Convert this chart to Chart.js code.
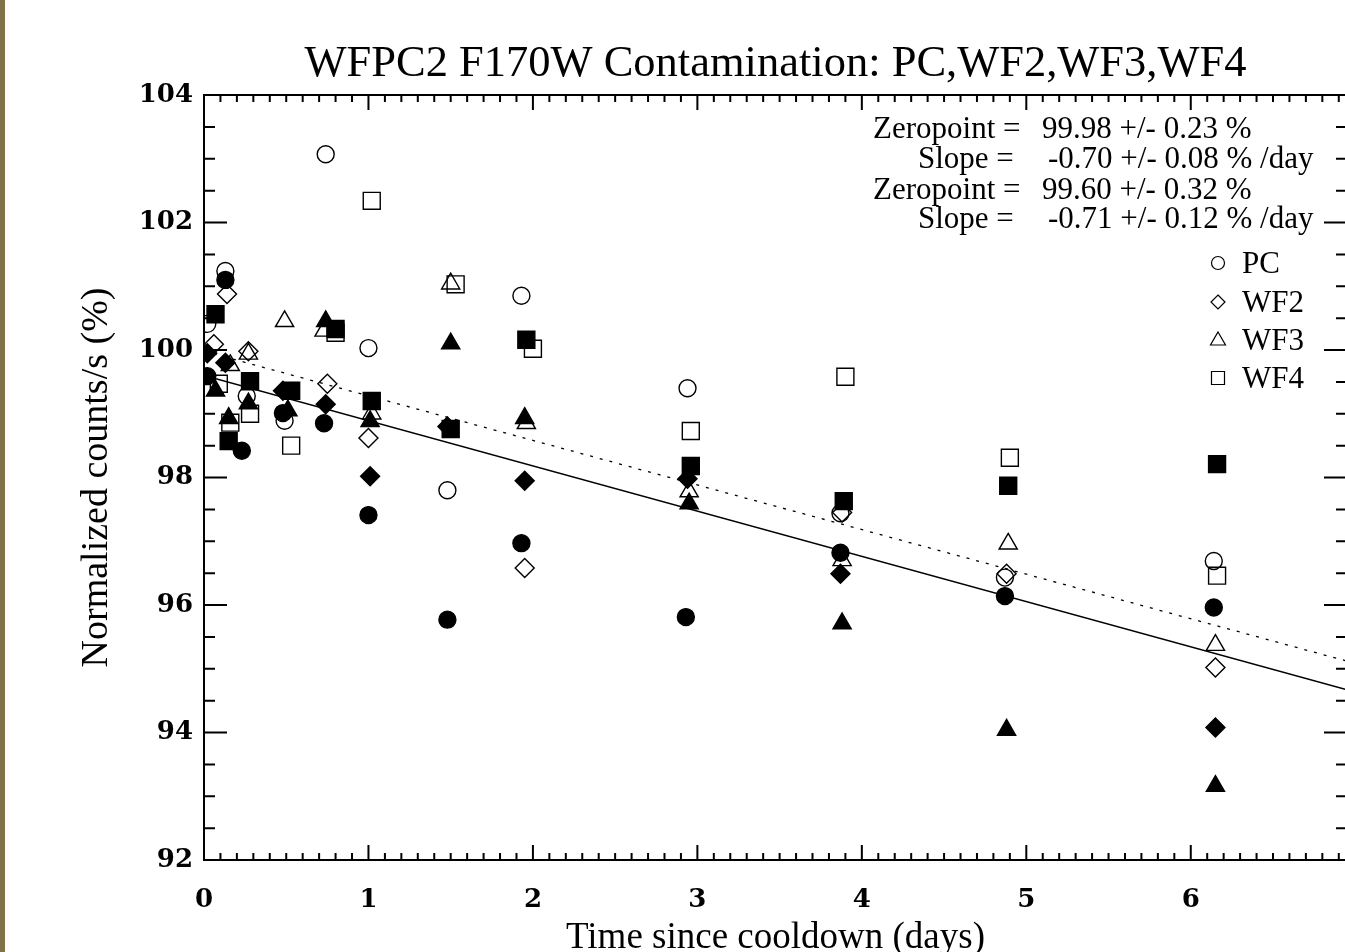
<!DOCTYPE html>
<html><head><meta charset="utf-8">
<script src="https://cdn.jsdelivr.net/npm/chart.js@4.4.1/dist/chart.umd.min.js"></script>
<style>
html,body{margin:0;padding:0;background:#fff;overflow:hidden;width:1345px;height:952px;}
#wrap{position:relative;width:1345px;height:952px;overflow:hidden;background:#fff;}
#strip{position:absolute;left:0;top:0;width:5px;height:952px;background:#7f7347;}
canvas{position:absolute;left:0;top:0;}
</style></head><body>
<div id="wrap"><canvas id="c" width="1347" height="960"></canvas><div id="strip"></div></div>
<script>
// ---- data ----
const titleText = 'WFPC2 F170W Contamination: PC,WF2,WF3,WF4';
const xTitle = 'Time since cooldown (days)';
const yTitle = 'Normalized counts/s (%)';
const xTicks = [0, 1, 2, 3, 4, 5, 6];
const yTicks = [92, 94, 96, 98, 100, 102, 104];

const pcOpenX   = [0.02, 0.13, 0.26, 0.49, 0.74, 1.00, 1.48, 1.93, 2.94, 3.87, 4.87, 6.14];
const pcOpenY   = [100.41, 101.24, 99.28, 98.89, 103.07, 100.03, 97.80, 100.85, 99.40, 97.44, 96.43, 96.69];
const pcFilledX = [0.02, 0.13, 0.23, 0.48, 0.73, 1.00, 1.48, 1.93, 2.93, 3.87, 4.87, 6.14];
const pcFilledY = [99.59, 101.10, 98.42, 99.01, 98.85, 97.41, 95.77, 96.97, 95.81, 96.82, 96.14, 95.96];

const wf2OpenX   = [0.06, 0.14, 0.27, 0.75, 1.00, 1.95, 3.88, 4.88, 6.15];
const wf2OpenY   = [100.09, 100.88, 99.98, 99.47, 98.62, 96.58, 97.45, 96.49, 95.02];
const wf2FilledX = [0.02, 0.13, 0.48, 0.74, 1.01, 1.48, 1.95, 2.94, 3.87, 6.15];
const wf2FilledY = [99.95, 99.80, 99.36, 99.15, 98.02, 98.80, 97.95, 97.98, 96.49, 94.08];

const wf3OpenX   = [0.16, 0.27, 0.49, 0.73, 1.02, 1.50, 1.96, 2.95, 3.88, 4.89, 6.15];
const wf3OpenY   = [99.76, 99.94, 100.45, 100.30, 99.00, 101.04, 98.85, 97.78, 96.70, 96.96, 95.37];
const wf3FilledX = [0.07, 0.15, 0.27, 0.51, 0.74, 1.01, 1.50, 1.95, 2.95, 3.88, 4.88, 6.15];
const wf3FilledY = [99.36, 98.93, 99.16, 99.05, 100.45, 98.88, 100.10, 98.93, 97.59, 95.71, 94.04, 93.16];

const wf4OpenX   = [0.09, 0.16, 0.28, 0.53, 0.80, 1.02, 1.53, 2.00, 2.96, 3.90, 4.90, 6.16];
const wf4OpenY   = [99.47, 98.86, 99.00, 98.50, 100.27, 102.34, 101.03, 100.02, 98.73, 99.58, 98.31, 96.46];
const wf4FilledX = [0.07, 0.15, 0.28, 0.53, 0.80, 1.02, 1.50, 1.96, 2.96, 3.89, 4.89, 6.16];
const wf4FilledY = [100.56, 98.57, 99.51, 99.36, 100.33, 99.20, 98.76, 100.16, 98.18, 97.63, 97.87, 98.21];

const solidFitX  = [0, 6.95];
const solidFitY  = [99.60, 94.67];
const dottedFitX = [0, 6.95];
const dottedFitY = [99.98, 95.12];

const fitLabels = ['Zeropoint =', 'Slope =', 'Zeropoint =', 'Slope ='];
const fitValues = ['99.98 +/- 0.23 %', '-0.70 +/- 0.08 % /day', '99.60 +/- 0.32 %', '-0.71 +/- 0.12 % /day'];
const legendLabels = ['PC', 'WF2', 'WF3', 'WF4'];
const legendStyles = ['circle', 'rectRot', 'triangle', 'rect'];

// ---- build chart ----
const SERIF = "'Liberation Serif', 'Times New Roman', serif";
const radii = {circle: 8.5, rectRot: 9.5, triangle: 10.5, rect: 12};
function pts(xs, ys) { return xs.map((v, i) => ({x: v, y: ys[i]})); }
function sym(label, xs, ys, style, filled, order) {
  return {label, data: pts(xs, ys), showLine: false, pointStyle: style,
    pointRadius: radii[style], pointHoverRadius: radii[style], pointBorderWidth: 1.4,
    pointBorderColor: '#000', pointBackgroundColor: filled ? '#000' : 'rgba(0,0,0,0)',
    borderColor: '#000', backgroundColor: filled ? '#000' : 'rgba(0,0,0,0)', order, clip: 0};
}
function fit(label, xs, ys, dash) {
  return {label, data: pts(xs, ys), showLine: true, pointRadius: 0, borderColor: '#000',
    borderWidth: 1.3, borderDash: dash, fill: false, order: 20, clip: 0};
}

const frame = {
  id: 'frame',
  afterDatasetsDraw(chart) {
    const {ctx, chartArea: a, scales: {x, y}} = chart;
    ctx.save();
    ctx.strokeStyle = '#000';
    ctx.lineWidth = 2;
    ctx.beginPath();
    ctx.rect(a.left, a.top, a.right - a.left, a.bottom - a.top);
    const nx = Math.floor(x.max * 10 + 1e-6);
    for (let i = 0; i <= nx; i++) {
      const px = x.getPixelForValue(i / 10);
      const L = (i % 10 === 0) ? 15 : 7;
      ctx.moveTo(px, a.bottom); ctx.lineTo(px, a.bottom - L);
      ctx.moveTo(px, a.top); ctx.lineTo(px, a.top + L);
    }
    const ny = Math.round((y.max - y.min) * 2);
    for (let i = 0; i <= ny; i++) {
      const py = y.getPixelForValue(y.min + i / 2);
      const L = (i % 4 === 0) ? 23 : 11;
      ctx.moveTo(a.left, py); ctx.lineTo(a.left + L, py);
      ctx.moveTo(a.right, py); ctx.lineTo(a.right - L, py);
    }
    ctx.stroke();
    ctx.restore();
  },
  afterDraw(chart) {
    const ctx = chart.ctx;
    ctx.save();
    ctx.fillStyle = '#000';
    ctx.font = '31px ' + SERIF;
    ctx.textBaseline = 'alphabetic';
    ctx.textAlign = 'left';
    const base = [138, 168, 199, 228];
    fitLabels.forEach((t, i) => {
      ctx.fillText(t, i % 2 === 0 ? 873 : 918, base[i]);
      ctx.fillText(fitValues[i], i % 2 === 0 ? 1042 : 1048, base[i]);
    });
    // legend
    const lb = [273, 312, 350, 388];
    ctx.strokeStyle = '#000';
    ctx.lineWidth = 1.2;
    legendLabels.forEach((t, i) => {
      const cx = 1218, cy = lb[i] - 10;
      ctx.beginPath();
      const s = legendStyles[i];
      if (s === 'circle') ctx.arc(cx, cy, 6.5, 0, Math.PI * 2);
      else if (s === 'rectRot') { ctx.moveTo(cx, cy - 7); ctx.lineTo(cx + 7, cy); ctx.lineTo(cx, cy + 7); ctx.lineTo(cx - 7, cy); ctx.closePath(); }
      else if (s === 'triangle') { ctx.moveTo(cx, cy - 8); ctx.lineTo(cx + 7.5, cy + 5); ctx.lineTo(cx - 7.5, cy + 5); ctx.closePath(); }
      else ctx.rect(cx - 6.5, cy - 6.5, 13, 13);
      ctx.stroke();
      ctx.fillText(t, 1242, lb[i]);
    });
    ctx.restore();
  }
};

new Chart(document.getElementById('c'), {
  type: 'scatter',
  data: {datasets: [
    fit('Fit (open)', dottedFitX, dottedFitY, [3, 7]),
    fit('Fit (filled)', solidFitX, solidFitY, []),
    sym('PC', pcOpenX, pcOpenY, 'circle', false, 8),
    sym('WF2', wf2OpenX, wf2OpenY, 'rectRot', false, 7),
    sym('WF3', wf3OpenX, wf3OpenY, 'triangle', false, 6),
    sym('WF4', wf4OpenX, wf4OpenY, 'rect', false, 5),
    sym('PC filled', pcFilledX, pcFilledY, 'circle', true, 4),
    sym('WF2 filled', wf2FilledX, wf2FilledY, 'rectRot', true, 3),
    sym('WF3 filled', wf3FilledX, wf3FilledY, 'triangle', true, 2),
    sym('WF4 filled', wf4FilledX, wf4FilledY, 'rect', true, 1)
  ]},
  options: {
    responsive: false, animation: false, devicePixelRatio: 1,
    layout: {padding: 0, autoPadding: false},
    events: [],
    plugins: {
      legend: {display: false}, tooltip: {enabled: false},
      title: {display: true, text: titleText, fullSize: false, color: '#000',
        font: {family: SERIF, size: 44.5, weight: 'normal', lineHeight: 1.2}, padding: {top: 38, bottom: 3.6}}
    },
    scales: {
      x: {type: 'linear', min: 0, max: 6.95,
        afterBuildTicks(s) { s.ticks = xTicks.map(v => ({value: v})); },
        afterFit(s) { s.height = 100; s.paddingLeft = 0; s.paddingRight = 0; },
        grid: {display: false, drawTicks: false}, border: {display: false},
        ticks: {color: '#000', padding: 25, maxRotation: 0, autoSkip: false, includeBounds: false,
          font: {family: "'DejaVu Serif', serif", weight: 'bold', size: 26}},
        title: {display: true, text: xTitle, color: '#000', font: {family: SERIF, size: 37, lineHeight: 1.2}, padding: {top: 0, bottom: 0}}
      },
      y: {type: 'linear', min: 92, max: 104,
        afterBuildTicks(s) { s.ticks = yTicks.map(v => ({value: v})); },
        afterFit(s) { s.width = 204; s.paddingTop = 0; s.paddingBottom = 0; },
        grid: {display: false, drawTicks: false}, border: {display: false},
        ticks: {color: '#000', padding: 11, autoSkip: false, includeBounds: false,
          font: {family: "'DejaVu Serif', serif", weight: 'bold', size: 26}},
        title: {display: true, text: yTitle, color: '#000', font: {family: SERIF, size: 38, lineHeight: 1.2}, padding: {top: 74, bottom: 0}}
      }
    }
  },
  plugins: [frame]
});
</script>
</body></html>
